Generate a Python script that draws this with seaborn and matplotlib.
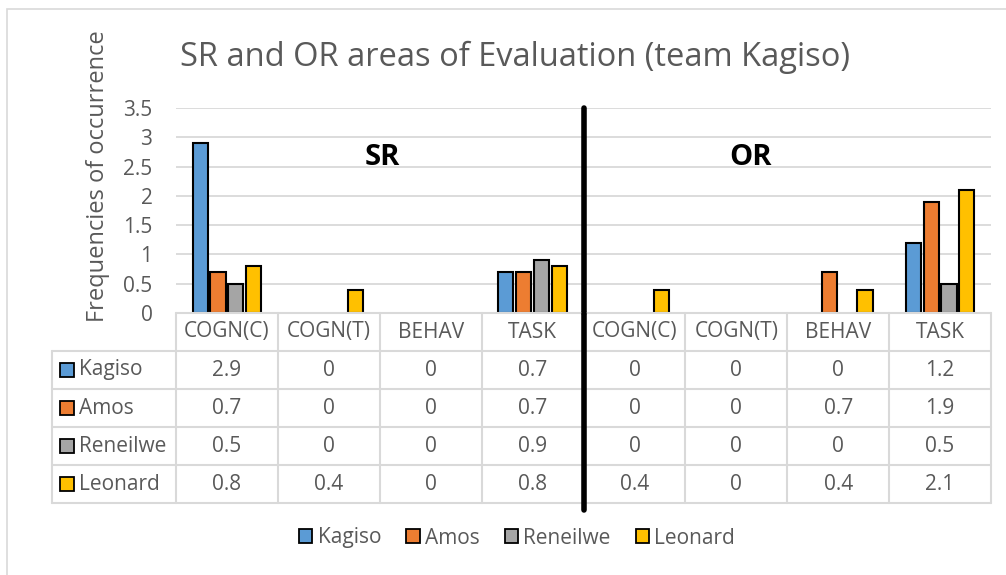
import matplotlib
matplotlib.use("Agg")
import matplotlib.pyplot as plt
from matplotlib.patches import Patch, Rectangle
import pandas as pd
import seaborn as sns

# --- data ---
sections = ["SR", "SR", "SR", "SR", "OR", "OR", "OR", "OR"]
areas = ["COGN(C)", "COGN(T)", "BEHAV", "TASK", "COGN(C)", "COGN(T)", "BEHAV", "TASK"]
names = ["Kagiso", "Amos", "Reneilwe", "Leonard"]
kagiso = [2.9, 0, 0, 0.7, 0, 0, 0, 1.2]
amos = [0.7, 0, 0, 0.7, 0, 0, 0.7, 1.9]
reneilwe = [0.5, 0, 0, 0.9, 0, 0, 0, 0.5]
leonard = [0.8, 0.4, 0, 0.8, 0.4, 0, 0.4, 2.1]
colors = ["#5B9BD5", "#ED7D31", "#A5A5A5", "#FFC000"]

slots = [f"{s} {a}" for s, a in zip(sections, areas)]
series = dict(zip(names, [kagiso, amos, reneilwe, leonard]))
rows = []
for n in names:
    for slot, v in zip(slots, series[n]):
        rows.append({"slot": slot, "person": n, "value": v})
df = pd.DataFrame(rows)

sns.set_theme(style="white")
plt.rcParams["font.family"] = ["Open Sans", "DejaVu Sans"]
grey = "#595959"
line_grey = "#D9D9D9"
fs = 15

W, H = 1006, 575
fig = plt.figure(figsize=(W / 100, H / 100), dpi=100)

# outer chart border
fig.patches.append(Rectangle((7 / W, -0.1), 1.2, 1 - 9 / H + 0.1, transform=fig.transFigure,
                             fill=False, edgecolor=line_grey, linewidth=1.2))

x0, x1 = 176, 991
ax = fig.add_axes([x0 / W, 1 - 313 / H, (x1 - x0) / W, (313 - 108) / H])
sns.barplot(data=df, x="slot", y="value", hue="person", order=slots, hue_order=names,
            palette=colors, saturation=1, width=0.7, gap=0.15, edgecolor="black",
            linewidth=1.5, legend=False, ax=ax, zorder=3)
for p in ax.patches:
    if p.get_height() == 0:
        p.set_linewidth(0)

ax.set_xlim(-0.5, len(slots) - 0.5)
ax.set_ylim(0, 3.5)
ax.set_yticks([0, 0.5, 1, 1.5, 2, 2.5, 3, 3.5])
ax.set_yticklabels(["0", "0.5", "1", "1.5", "2", "2.5", "3", "3.5"])
ax.tick_params(axis="y", length=0, labelsize=15, labelcolor=grey, pad=17)
ax.set_xticks([])
ax.set_xlabel("")
ax.set_ylabel("Frequencies of occurrence", fontsize=17, color=grey)
ax.yaxis.set_label_coords(-0.081, 0.668)
ax.grid(axis="y", color=line_grey, linewidth=1.3, zorder=0)
for s in ax.spines.values():
    s.set_visible(False)

ax.text(1.53, 2.65, "SR", fontsize=21, fontweight="bold", ha="center", va="center", color="black")
ax.text(5.14, 2.65, "OR", fontsize=21, fontweight="bold", ha="center", va="center", color="black")
ax.plot([3.5, 3.5], [0, 3.5], color="black", linewidth=4, zorder=5, clip_on=False)

fig.text(180 / W, 1 - 57 / H, "SR and OR areas of Evaluation (team Kagiso)",
         fontsize=23.5, color=grey, ha="left", va="center")

# --- data table under the bars ---
tab = fig.add_axes([x0 / W, 1 - 503 / H, (x1 - x0) / W, (503 - 313) / H], sharex=ax)
tab.set_ylim(5, 0)
tab.axis("off")
col_w = (x1 - x0) / len(slots)
lab_left = -0.5 - (176 - 52) / col_w
n = len(slots)

tab.plot([-0.5, n - 0.5], [0, 0], color=line_grey, lw=1.5, clip_on=False)
for r in range(1, 6):
    tab.plot([lab_left, n - 0.5], [r, r], color=line_grey, lw=1.5, clip_on=False)
for i in range(n + 1):
    tab.plot([i - 0.5, i - 0.5], [0, 5], color=line_grey, lw=1.5, clip_on=False)
tab.plot([lab_left, lab_left], [1, 5], color=line_grey, lw=1.5, clip_on=False)

for i, a in enumerate(areas):
    tab.text(i, 0.5, a, ha="center", va="center", fontsize=fs, color=grey)
for r, nm in enumerate(names, start=1):
    sq_x = -0.5 + (67 - 176) / col_w
    tab.plot(sq_x, r + 0.5, marker="s", markersize=10, markerfacecolor=colors[r - 1],
             markeredgecolor="black", markeredgewidth=1.3, clip_on=False)
    tab.text(-0.5 + (79 - 176) / col_w, r + 0.5, nm, ha="left", va="center",
             fontsize=fs, color=grey)
    for i, v in enumerate(series[nm]):
        tab.text(i, r + 0.5, f"{v:g}", ha="center", va="center", fontsize=fs, color=grey)
tab.plot([3.5, 3.5], [0, 5.18], color="black", linewidth=4, zorder=5, clip_on=False)

handles = [Patch(facecolor=c, edgecolor="black", linewidth=1.3) for c in colors]
fig.legend(handles, names, loc="center", bbox_to_anchor=(517 / W, 1 - 538 / H), ncol=4,
           frameon=False, fontsize=fs, labelcolor=grey, handlelength=0.65, handleheight=0.65,
           handletextpad=0.25, columnspacing=1.2)

fig.savefig("out.png", dpi=100)
